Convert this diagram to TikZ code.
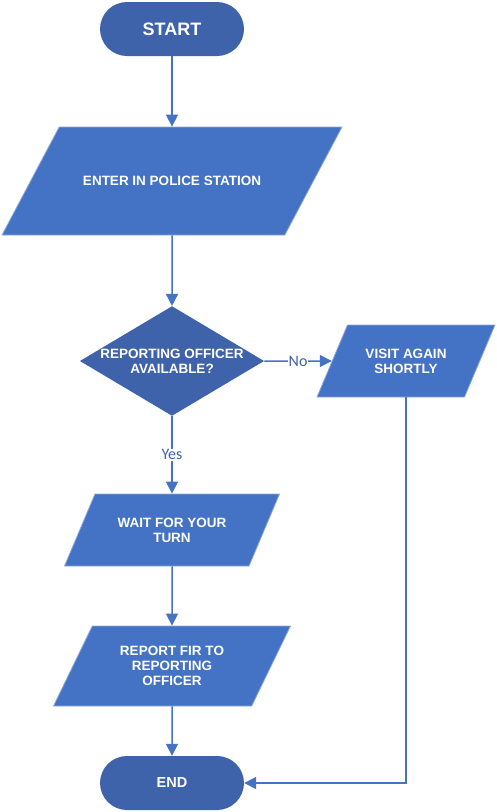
\documentclass[tikz,border=0pt]{standalone}
\usepackage{fontspec}
\setmainfont{Liberation Sans}
\newfontfamily\labelfont{Carlito}
\usetikzlibrary{arrows.meta,shapes.geometric,positioning}
\definecolor{boxblue}{HTML}{4472C4}
\definecolor{darkblue}{HTML}{3F63AA}
\definecolor{edgeblue}{HTML}{8FAADC}
\tikzset{%
  >={Triangle[width=12pt,length=12pt]},
  % Specifications for style of nodes:
        base/.style = {text=white, align=center, inner sep=0pt,
                       font=\bfseries\fontsize{13.5}{15}\selectfont},
    terminal/.style = {base, rectangle, rounded corners=27pt, fill=darkblue,
                       minimum width=144pt, minimum height=54pt},
          io/.style = {base, trapezium, trapezium left angle=#1,
                       trapezium right angle=180-#1, trapezium stretches body=true,
                       fill=boxblue, draw=edgeblue, line width=0.8pt},
    decision/.style = {base, diamond, fill=darkblue, aspect=1.68,
                       minimum width=180pt, minimum height=107pt},
        line/.style = {draw=boxblue, line width=1.5pt, ->},
      answer/.style = {fill=white, text=darkblue, inner sep=1pt,
                       font=\labelfont\fontsize{16}{17}\selectfont}
}
\begin{document}
\begin{tikzpicture}[x=1pt, y=1pt, node distance=100pt]
  \useasboundingbox (0,0) rectangle (497,-812);
  % Specification of nodes (position, etc.)
  \node (start)  [terminal, font=\bfseries\fontsize{18}{20}\selectfont]
                 at (172,-29)                               {START};
  \node (enter)  [io=62, below of=start, yshift=-52pt, minimum width=340pt,
                  inner ysep=49pt, minimum height=108pt]    {ENTER IN POLICE STATION};
  \node (avail)  [decision, below of=enter, yshift=-80pt]   {REPORTING OFFICER\\AVAILABLE?};
  \node (visit)  [io=67, right of=avail, xshift=134pt, minimum width=178pt,
                  inner ysep=23.6pt, minimum height=72pt]   {VISIT AGAIN\\SHORTLY};
  \node (wait)   [io=67, below of=avail, yshift=-69pt, minimum width=215pt,
                  inner ysep=23.6pt, minimum height=72pt]   {WAIT FOR YOUR\\TURN};
  \node (report) [io=64, below of=wait, yshift=-36pt, minimum width=237pt,
                  inner ysep=20pt, minimum height=80pt]     {REPORT FIR TO\\REPORTING\\OFFICER};
  \node (end)    [terminal, below of=report, yshift=-17pt,
                  font=\bfseries\fontsize{14.5}{16}\selectfont] {END};

  \draw[line] (start) -- (enter);
  \draw[line] (enter) -- (avail);
  \draw[line] (avail) -- node[answer] {No} (visit);
  \draw[line] (avail) -- node[answer] {Yes} (wait);
  \draw[line] (wait) -- (report);
  \draw[line] (report) -- (end);
  \draw[line] (visit.south) |- (end.east);
\end{tikzpicture}
\end{document}
